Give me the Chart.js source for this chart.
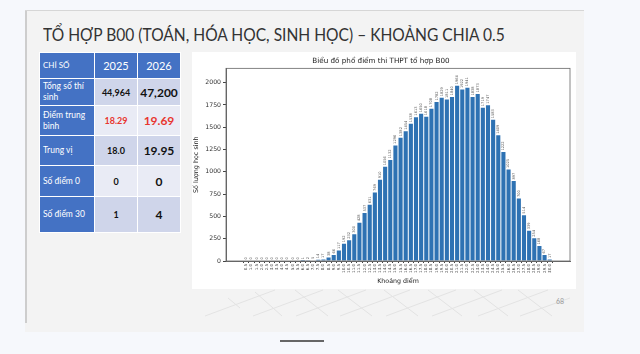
<!DOCTYPE html>
<html>
<head>
<meta charset="utf-8">
<script src="https://cdn.jsdelivr.net/npm/chart.js@4.4.1/dist/chart.umd.min.js"></script>
<style>
  html, body { margin: 0; padding: 0; }
  body { width: 640px; height: 354px; background: #f6f8fc; position: relative; overflow: hidden; font-family: "Lato", "Open Sans", sans-serif; }
  .slide { position: absolute; left: 25px; top: 10px; width: 559px; height: 321px; background: #f3f3f3; border-top: 1px solid #d6d6d6; }
  .slide .borda { position: absolute; left: 0; top: 0; width: 2px; height: 312px; background: #cdcdcd; }
  .titulo { position: absolute; left: 43px; top: 24px; margin: 0; font-size: 17.5px; font-weight: 400; color: #333; white-space: nowrap; transform-origin: 0 0; transform: scaleX(0.89); }
  table { position: absolute; left: 39px; top: 52px; border-collapse: collapse; table-layout: fixed; }
  td { border: 1px solid #fff; padding: 0; vertical-align: middle; }
  td.rot { background: #4472c4; color: #fff; font-size: 8.5px; padding-left: 3px; line-height: 11px; }
  td.cab { background: #4472c4; color: #fff; text-align: center; font-size: 11px; }
  td.v1, td.v2 { text-align: center; color: #111; }
  td.v1 { font-size: 9px; font-weight: 700; }
  td.v2 { font-size: 12px; font-weight: 700; }
  tr.esc td.v1, tr.esc td.v2 { background: #cfd5ea; }
  tr.cla td.v1, tr.cla td.v2 { background: #e9ebf5; }
  .verm { color: #e8362f !important; }
  .grafico { position: absolute; left: 192px; top: 52px; width: 384px; height: 237px; background: #fff; }
  .pagina { position: absolute; left: 556px; top: 297px; font-size: 7px; color: #999; }
  .barra { position: absolute; left: 280px; top: 340px; width: 44px; height: 2px; background: #666; }
  svg.fundo { position: absolute; left: 0; top: 0; }
</style>
</head>
<body>
<div class="slide"><div class="borda"></div></div>
<svg class="fundo" width="640" height="354">
  <g stroke="#e3e3e3" stroke-width="1" fill="none">
    <line x1="205" y1="316" x2="275" y2="290"/>
    <line x1="253" y1="316" x2="323" y2="290"/>
    <line x1="296" y1="316" x2="366" y2="290"/>
    <line x1="340" y1="316" x2="410" y2="290"/>
    <line x1="386" y1="316" x2="456" y2="290"/>
    <line x1="432" y1="316" x2="502" y2="290"/>
    <line x1="478" y1="316" x2="548" y2="290"/>
    <line x1="520" y1="316" x2="570" y2="298"/>
    <line x1="228" y1="298" x2="240" y2="308"/>
    <line x1="255" y1="292" x2="282" y2="316"/>
    <line x1="295" y1="290" x2="328" y2="316"/>
    <line x1="338" y1="290" x2="372" y2="316"/>
    <line x1="384" y1="290" x2="418" y2="316"/>
    <line x1="428" y1="290" x2="462" y2="316"/>
    <line x1="474" y1="290" x2="508" y2="316"/>
    <line x1="518" y1="290" x2="552" y2="316"/>
  </g>
</svg>
<div class="titulo">TỔ HỢP B00 (TOÁN, HÓA HỌC, SINH HỌC) – KHOẢNG CHIA 0.5</div>
<table>
  <colgroup><col style="width:55px"><col style="width:43px"><col style="width:43px"></colgroup>
  <tr style="height:26px"><td class="rot" style="font-size:8px">CHỈ SỐ</td><td class="cab">2025</td><td class="cab">2026</td></tr>
  <tr class="esc" style="height:27px"><td class="rot">Tổng số thí sinh</td><td class="v1">44,964</td><td class="v2">47,200</td></tr>
  <tr class="cla" style="height:30px"><td class="rot">Điểm trung bình</td><td class="v1 verm">18.29</td><td class="v2 verm">19.69</td></tr>
  <tr class="esc" style="height:30px"><td class="rot">Trung vị</td><td class="v1">18.0</td><td class="v2">19.95</td></tr>
  <tr class="cla" style="height:31px"><td class="rot">Số điểm 0</td><td class="v1">0</td><td class="v2">0</td></tr>
  <tr class="esc" style="height:36px"><td class="rot">Số điểm 30</td><td class="v1">1</td><td class="v2">4</td></tr>
</table>
<div class="grafico"><canvas id="phodiem" width="384" height="237"></canvas></div>
<div class="pagina">68</div>
<div class="barra"></div>
<script>
  'use strict';

  var khoangDiem = ['0.5','1.0','1.5','2.0','2.5','3.0','3.5','4.0','4.5','5.0',
    '5.5','6.0','6.5','7.0','7.5','8.0','8.5','9.0','9.5','10.0',
    '10.5','11.0','11.5','12.0','12.5','13.0','13.5','14.0','14.5','15.0',
    '15.5','16.0','16.5','17.0','17.5','18.0','18.5','19.0','19.5','20.0',
    '20.5','21.0','21.5','22.0','22.5','23.0','23.5','24.0','24.5','25.0',
    '25.5','26.0','26.5','27.0','27.5','28.0','28.5','29.0','29.5','30.0'];

  var soHocSinh = [0,0,0,0,0,0,0,0,0,0,
    0,1,2,5,14,17,38,66,117,192,
    232,300,428,537,631,769,910,1056,1132,1296,
    1382,1454,1538,1613,1650,1618,1708,1782,1829,1811,
    1840,1964,1922,1941,1838,1873,1719,1747,1583,1409,
    1222,1025,897,700,514,339,254,168,67,17];

  var yTicks = [0,250,500,750,1000,1250,1500,1750,2000];

  var pontos = soHocSinh.map(function (v, i) { return { x: i, y: v }; });

  var nhanCot = {
    id: 'nhanCot',
    afterDatasetsDraw: function (chart) {
      var c = chart.ctx;
      var meta = chart.getDatasetMeta(0);
      c.save();
      c.font = '3.6px "DejaVu Sans"';
      c.fillStyle = '#555';
      c.textAlign = 'left';
      c.textBaseline = 'middle';
      meta.data.forEach(function (bar, i) {
        c.save();
        c.translate(bar.x, bar.y - 1.5);
        c.rotate(-Math.PI / 2);
        c.fillText(String(soHocSinh[i]), 0, 0);
        c.restore();
      });
      c.restore();
    }
  };

  var khung = {
    id: 'khung',
    afterDraw: function (chart) {
      var a = chart.chartArea;
      var c = chart.ctx;
      c.save();
      c.strokeStyle = '#666';
      c.lineWidth = 0.8;
      c.strokeRect(a.left, a.top, a.right - a.left, a.bottom - a.top);
      c.restore();
    }
  };

  var ctx = document.getElementById('phodiem');
  var chart = new Chart(ctx, {
    type: 'bar',
    data: {
      datasets: [{
        data: pontos,
        backgroundColor: '#2e72b3',
        barPercentage: 0.8,
        categoryPercentage: 1
      }]
    },
    options: {
      responsive: false,
      animation: false,
      layout: { padding: { left: 0, right: 6, top: 0, bottom: 0 } },
      plugins: {
        legend: { display: false },
        tooltip: { enabled: false },
        title: {
          display: true,
          text: 'Biểu đồ phổ điểm thi THPT tổ hợp B00',
          color: '#222',
          font: { family: 'DejaVu Sans', size: 7.2, weight: 'normal' },
          padding: { top: 5, bottom: 2.7 }
        }
      },
      scales: {
        x: {
          type: 'linear',
          min: -3.39,
          max: 62.39,
          afterFit: function (s) { s.height = 28; },
          afterBuildTicks: function (s) {
            s.ticks = khoangDiem.map(function (l, i) { return { value: i }; });
          },
          ticks: {
            autoSkip: false,
            maxRotation: 90,
            minRotation: 90,
            padding: 1,
            color: '#444',
            font: { family: 'DejaVu Sans', size: 4 },
            callback: function (v) { return khoangDiem[v]; }
          },
          grid: { drawOnChartArea: false, tickLength: 2, color: '#444' },
          border: { color: '#666' },
          title: {
            display: true,
            text: 'Khoảng điểm',
            color: '#222',
            font: { family: 'DejaVu Sans', size: 6.3 },
            padding: { top: 0, bottom: 4 }
          }
        },
        y: {
          min: 0,
          max: 2160,
          afterFit: function (s) { s.width = 34; },
          afterBuildTicks: function (s) {
            s.ticks = yTicks.map(function (v) { return { value: v }; });
          },
          ticks: {
            padding: 2,
            color: '#333',
            font: { family: 'DejaVu Sans', size: 6.2 },
            callback: function (v) { return String(v); }
          },
          grid: { drawOnChartArea: false, tickLength: 3, color: '#444' },
          border: { color: '#666' },
          title: {
            display: true,
            text: 'Số lượng học sinh',
            color: '#222',
            font: { family: 'DejaVu Sans', size: 6.4 },
            padding: { top: 0.5, bottom: 0 }
          }
        }
      }
    },
    plugins: [nhanCot, khung]
  });
</script>
</body>
</html>
